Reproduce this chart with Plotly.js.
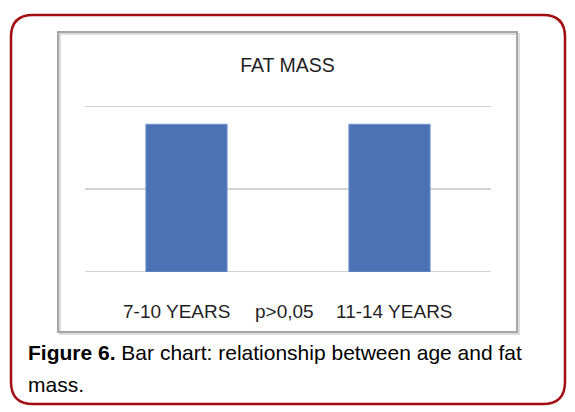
<!DOCTYPE html>
<html>
<head>
<meta charset="utf-8">
<script src="https://cdn.plot.ly/plotly-3.0.1.min.js"></script>
<style>
  html, body { margin: 0; padding: 0; background: #fff; }
  #plot { width: 575px; height: 412px; }
</style>
</head>
<body>
<div id="plot"></div>
<script>
const categories = ["7-10 YEARS", "11-14 YEARS"];
const fatMass = [17.8, 17.8];
const gridValues = [0, 10, 20];
const middleLabel = "p>0,05";
const chartTitle = "FAT MASS";
const captionBold = "Figure 6.";
const captionLine1 = " Bar chart: relationship between age and fat";
const captionLine2 = "mass.";

// plot area in pixels, used to place decorations in paper units
const L = 85, R = 491, T = 106, B = 272;
const px = (x) => (x - L) / (R - L);
const py = (y) => (B - y) / (B - T);

const font = "Liberation Sans, Arial, sans-serif";

const trace = {
  x: categories,
  y: fatMass,
  type: "bar",
  marker: { color: "#4a72b5", line: { color: "#7294cc", width: 1 } },
  hoverinfo: "skip",
  showlegend: false,
};

const r = 22, ox0 = 11, ox1 = 565, oy0 = 15, oy1 = 404;
const roundedPath =
  `M ${px(ox0 + r)},${py(oy0)} L ${px(ox1 - r)},${py(oy0)} ` +
  `Q ${px(ox1)},${py(oy0)} ${px(ox1)},${py(oy0 + r)} ` +
  `L ${px(ox1)},${py(oy1 - r)} Q ${px(ox1)},${py(oy1)} ${px(ox1 - r)},${py(oy1)} ` +
  `L ${px(ox0 + r)},${py(oy1)} Q ${px(ox0)},${py(oy1)} ${px(ox0)},${py(oy1 - r)} ` +
  `L ${px(ox0)},${py(oy0 + r)} Q ${px(ox0)},${py(oy0)} ${px(ox0 + r)},${py(oy0)} Z`;

// gridlines as shapes on the y axis, so the edge ones are not dropped
const gridShapes = gridValues.map((v) => ({
  type: "line", xref: "paper", yref: "y", layer: "below",
  x0: 0, x1: 1, y0: v, y1: v,
  line: { color: "#c4c4c4", width: 1.3 },
}));

const shapes = [
  // shadow of the chart box
  { type: "rect", xref: "paper", yref: "paper", layer: "below",
    x0: px(60), x1: px(519), y0: py(34), y1: py(334),
    line: { color: "#dcdcdc", width: 2 } },
  // chart box
  { type: "rect", xref: "paper", yref: "paper", layer: "below",
    x0: px(58), x1: px(517), y0: py(32), y1: py(332),
    line: { color: "#a6a6a6", width: 2 }, fillcolor: "rgba(0,0,0,0)" },
  ...gridShapes,
  // outer rounded frame
  { type: "path", xref: "paper", yref: "paper", path: roundedPath,
    line: { color: "#a30d12", width: 2.5 } },
];

const labelShift = [-10, 5];
const annotations = categories.map((c, i) => ({
  x: c, xref: "x", y: py(311.5), yref: "paper", xshift: labelShift[i],
  text: c, showarrow: false, xanchor: "center", yanchor: "middle",
  font: { family: font, size: 19, color: "#1f1f1f" },
}));
annotations.push(
  { x: px(284), xref: "paper", y: py(311.5), yref: "paper",
    text: middleLabel, showarrow: false, xanchor: "center", yanchor: "middle",
    font: { family: font, size: 19, color: "#1f1f1f" } },
  { x: px(26), xref: "paper", y: py(352.5), yref: "paper",
    text: `<b>${captionBold}</b>${captionLine1}`, showarrow: false,
    xanchor: "left", yanchor: "middle", align: "left",
    font: { family: font, size: 21, color: "#000" } },
  { x: px(26), xref: "paper", y: py(384.5), yref: "paper",
    text: captionLine2, showarrow: false,
    xanchor: "left", yanchor: "middle", align: "left",
    font: { family: font, size: 21, color: "#000" } }
);

const layout = {
  width: 575,
  height: 412,
  margin: { l: L, r: 575 - R, t: T, b: 412 - B, pad: 0 },
  paper_bgcolor: "#fff",
  plot_bgcolor: "rgba(0,0,0,0)",
  bargap: 0.6,
  title: {
    text: chartTitle,
    x: 287.5 / 575, xanchor: "center",
    y: 1 - 65 / 412, yanchor: "middle",
    font: { family: font, size: 19.5, color: "#1f1f1f" },
  },
  xaxis: {
    showticklabels: false, showgrid: false, zeroline: false,
    showline: false, ticks: "", fixedrange: true,
  },
  yaxis: {
    range: [0, 20], showticklabels: false, showgrid: false,
    zeroline: false, showline: false, ticks: "", fixedrange: true,
  },
  shapes,
  annotations,
};

Plotly.newPlot(document.querySelector("#plot"), [trace], layout, {
  displayModeBar: false,
  staticPlot: true,
});
</script>
</body>
</html>
